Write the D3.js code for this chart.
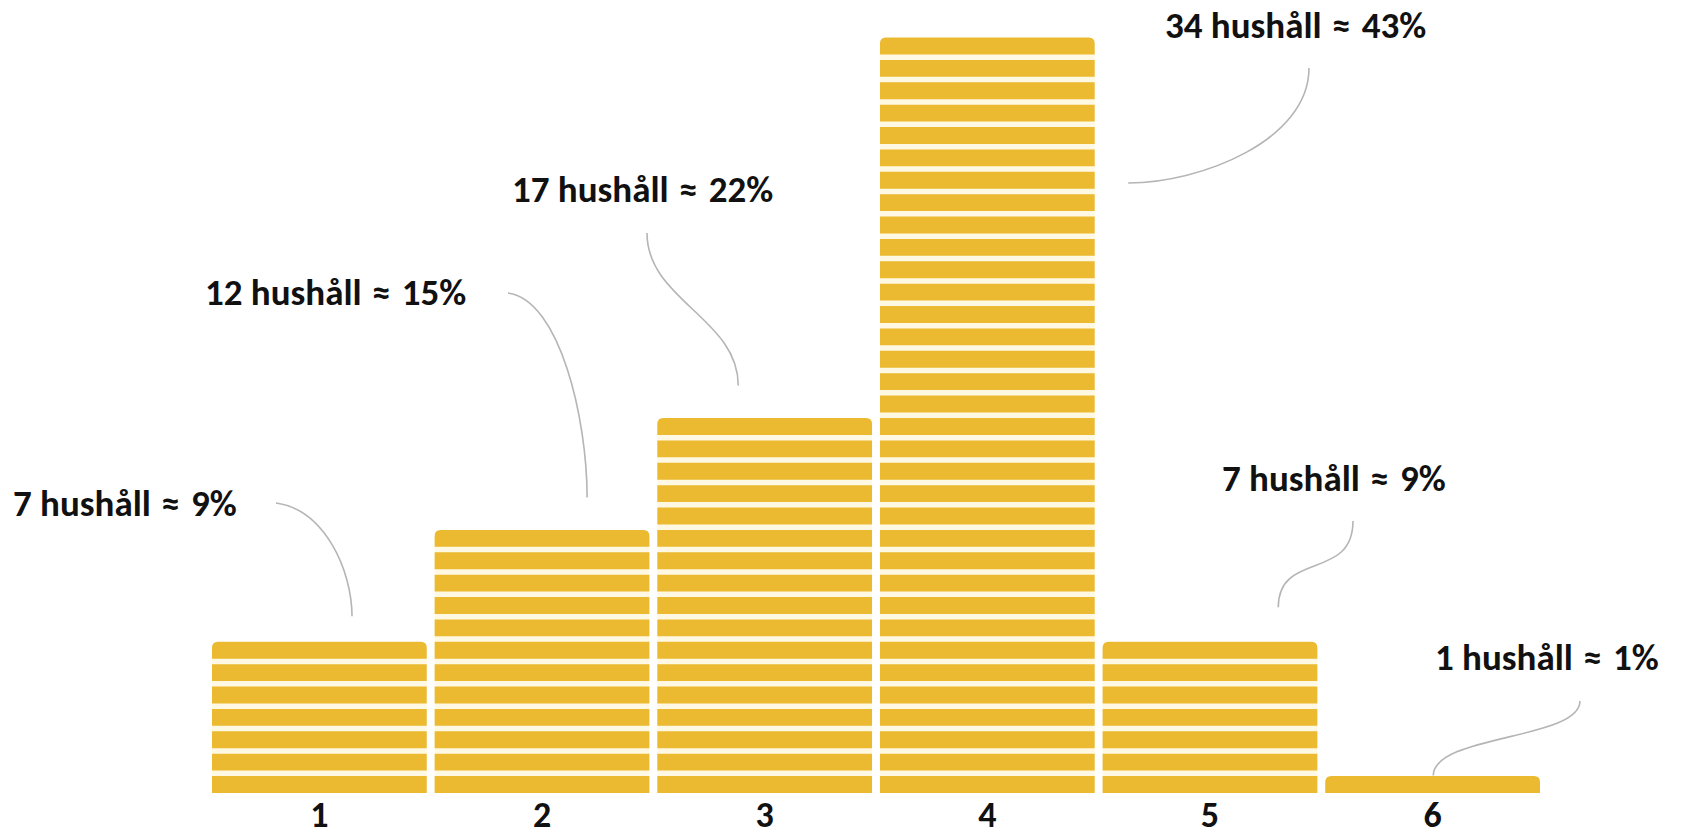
<!DOCTYPE html>
<html>
<head>
<meta charset="utf-8">
<script src="https://cdn.jsdelivr.net/npm/d3@7"></script>
<style>
  body { margin: 0; background: #fff; }
  svg { display: block; }
  text { font-family: Carlito, Lato, sans-serif; font-weight: 700; fill: #111; }
</style>
</head>
<body>
<div id="chart"></div>
<script>
const categories = ['1', '2', '3', '4', '5', '6'];
const households = [7, 12, 17, 34, 7, 1];
const shares = [9, 15, 22, 43, 9, 1];

// label placement: [x of text start, baseline]
const labelPos = [[13, 516], [205, 305], [512, 202], [1165, 38], [1222, 491], [1435, 670]];
// leader: start point, end as [fraction of band, offset above bar top], curve controls
const leaderStart = [[276, 503], [508, 293], [647, 233], [1309, 68], [1353, 521], [1580, 701]];
const leaderEnd = [[0.652, 20], [0.71, 27], [0.377, 27], [1.156, -151], [0.818, 29], [0.503, -5]];
const leaderCtrl = [
  [[0.645, 0.06], [1, 0.6]],
  [[0.66, 0.035], [1, 0.62]],
  [[0, 0.44], [1, 0.56]],
  [[0, 0.63], [0.6, 1]],
  [[0, 0.7], [1, 0.34]],
  [[0, 0.52], [1, 0.45]]
];

const width = 1694;
const height = 836;
const baseline = 793;
const gap = 5.5;
const barColor = '#EBBA30';

const svg = d3.select('#chart').append('svg')
  .attr('width', width)
  .attr('height', height);

const x = d3.scaleBand()
  .domain(categories)
  .range([212, 1540])
  .paddingInner(0.0355)
  .paddingOuter(0);

const y = d3.scaleLinear()
  .domain([0, 34])
  .range([baseline, 32]);

const data = categories.map((c, i) => ({ cat: c, n: households[i], p: shares[i], i }));

// bars made of stacked stripes
const bars = svg.append('g').attr('class', 'bars')
  .selectAll('g')
  .data(data)
  .join('g');

bars.append('rect')
  .attr('x', d => x(d.cat))
  .attr('y', d => y(d.n) + gap + 4)
  .attr('width', x.bandwidth())
  .attr('height', d => baseline - y(d.n) - gap - 4)
  .attr('fill', '#fff8e2');

function stripePath(x0, y0, w, h, r) {
  return `M${x0},${y0 + h} L${x0},${y0 + r} Q${x0},${y0} ${x0 + r},${y0} ` +
    `L${x0 + w - r},${y0} Q${x0 + w},${y0} ${x0 + w},${y0 + r} L${x0 + w},${y0 + h} Z`;
}

bars.selectAll('path')
  .data(d => d3.range(d.n).map(k => ({ cat: d.cat, k, top: k === d.n - 1 })))
  .join('path')
  .attr('fill', barColor)
  .attr('d', s => {
    const y0 = y(s.k + 1) + gap;
    const h = y(s.k) - y0;
    return stripePath(x(s.cat), y0, x.bandwidth(), h, s.top ? 6 : 0);
  });

// x axis labels
const xAxis = svg.append('g')
  .attr('transform', `translate(0, ${baseline})`)
  .call(d3.axisBottom(x).tickSize(0));
xAxis.select('.domain').remove();
xAxis.selectAll('text')
  .attr('y', 34)
  .attr('dy', 0)
  .style('font-size', '36px')
  .style('font-family', 'Carlito, Lato, sans-serif')
  .style('font-weight', 700)
  .attr('fill', '#111');

// leader lines
svg.append('g').attr('class', 'leaders')
  .selectAll('path')
  .data(data)
  .join('path')
  .attr('fill', 'none')
  .attr('stroke', '#b5b5b5')
  .attr('stroke-width', 1.6)
  .attr('d', d => {
    const [sx, sy] = leaderStart[d.i];
    const ex = x(d.cat) + leaderEnd[d.i][0] * x.bandwidth();
    const ey = y(d.n) - leaderEnd[d.i][1];
    const [c1, c2] = leaderCtrl[d.i];
    const px = a => sx + a * (ex - sx);
    const py = b => sy + b * (ey - sy);
    return `M${sx},${sy} C${px(c1[0])},${py(c1[1])} ${px(c2[0])},${py(c2[1])} ${ex},${ey}`;
  });

// value labels
const labels = svg.append('g').attr('class', 'labels')
  .selectAll('text')
  .data(data)
  .join('text')
  .attr('x', d => labelPos[d.i][0])
  .attr('y', d => labelPos[d.i][1])
  .style('font-size', '37px');

labels.append('tspan').text(d => `${d.n} hushåll `);
labels.append('tspan')
  .attr('dx', 2)
  .text('≈');
labels.append('tspan')
  .attr('dx', 3)
  .text(d => ` ${d.p}%`);
</script>
</body>
</html>
